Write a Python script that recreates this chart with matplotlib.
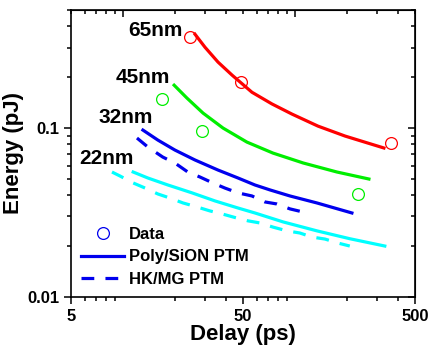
import numpy as np
import matplotlib.pyplot as plt

plt.rcParams['font.family'] = ['Liberation Sans', 'DejaVu Sans']
plt.rcParams['font.weight'] = 'bold'

# 65nm, Poly/SiON
red_x = [26.3, 30.1, 35.8, 43.2, 56.4, 73.7, 96.4, 136.5, 196, 266, 330]
red_y = [0.360, 0.301, 0.246, 0.206, 0.163, 0.139, 0.121, 0.1027, 0.0897, 0.0815, 0.0762]
red_dx = [24.6, 48.6, 362]
red_dy = [0.345, 0.187, 0.0815]

# 45nm, Poly/SiON
green_x = [19.9, 23.6, 29.3, 38.3, 52.7, 74.7, 112, 176, 270]
green_y = [0.1795, 0.1507, 0.1227, 0.100, 0.0826, 0.0711, 0.0621, 0.0549, 0.0499]
green_dx = [16.9, 28.9, 232]
green_dy = [0.148, 0.096, 0.0407]

# 32nm
blue_x = [13.1, 16.0, 20.1, 26.3, 35.8, 46.8, 58.7, 71.8, 93.8, 134.6, 215]
blue_y = [0.0973, 0.0849, 0.0741, 0.0647, 0.0564, 0.0506, 0.0460, 0.0430, 0.0396, 0.0360, 0.0314]
blue_hk_x = [12.1, 14.0, 17.1, 20.1, 23.9, 28.1, 33.4, 39.3, 46.8, 56.4, 67.1, 78.8, 93.8, 112]
blue_hk_y = [0.0873, 0.0772, 0.0673, 0.0621, 0.0549, 0.0513, 0.0473, 0.0441, 0.0413, 0.0396,
             0.0365, 0.0355, 0.0332, 0.0318]

# 22nm
cyan_x = [11.5, 14.0, 18.3, 25.3, 34.4, 46.8, 58.7, 85.5, 134.6, 209, 334]
cyan_y = [0.0549, 0.0506, 0.046, 0.0413, 0.0370, 0.0336, 0.0314, 0.0278, 0.0246, 0.0221, 0.0200]
cyan_hk_x = [8.66, 9.64, 11.5, 13.5, 16.0, 18.8, 22.4, 27.0, 32.1, 37.8, 46.1, 53.5, 62.8,
             74.7, 90.1, 107, 126, 150, 176, 209]
cyan_hk_y = [0.0549, 0.0520, 0.0473, 0.0441, 0.0407, 0.0385, 0.0360, 0.0341, 0.0323, 0.0310,
             0.0293, 0.0282, 0.0274, 0.0259, 0.0246, 0.0239, 0.0226, 0.0220, 0.0209, 0.0200]

node_labels = ['65nm', '45nm', '32nm', '22nm']
label_x = [22.4, 18.8, 15.0, 11.5]
label_y = [0.38, 0.198, 0.116, 0.0656]

fig = plt.figure(figsize=(4.3, 3.48), dpi=100)
ax = fig.add_axes([0.165, 0.147, 0.8, 0.824])

lw = 2.3
dash = (0, (4, 3.5))
ax.plot(red_x, red_y, color='#ff0000', lw=lw)
ax.plot(green_x, green_y, color='#00ee00', lw=lw)
ax.plot(blue_x, blue_y, color='#0000ee', lw=lw)
ax.plot(blue_hk_x, blue_hk_y, color='#0000ee', lw=lw, linestyle=dash)
ax.plot(cyan_x, cyan_y, color='#00ffff', lw=lw)
ax.plot(cyan_hk_x, cyan_hk_y, color='#00ffff', lw=lw, linestyle=dash)

ms = 8.5
ax.plot(red_dx, red_dy, 'o', mfc='none', mec='#ff0000', ms=ms, mew=0.9)
ax.plot(green_dx, green_dy, 'o', mfc='none', mec='#00ee00', ms=ms, mew=0.9)

for t, x, y in zip(node_labels, label_x, label_y):
    ax.text(x, y, t, ha='right', va='center', fontsize=15, fontweight='bold')

# legend handles
h1, = ax.plot([], [], 'o', mfc='none', mec='#0000ee', ms=ms, mew=0.9)
h2, = ax.plot([], [], color='#0000ee', lw=lw)
h3, = ax.plot([], [], color='#0000ee', lw=lw, linestyle=dash)
ax.legend([h1, h2, h3], ['Data', 'Poly/SiON PTM', 'HK/MG PTM'],
          loc='lower left', bbox_to_anchor=(0.0, 0.0), frameon=False,
          fontsize=12, handlelength=2.6, handletextpad=0.3,
          labelspacing=0.45, borderaxespad=0.2)

ax.set_xscale('log')
ax.set_yscale('log')
ax.set_xlim(5, 500)
ax.set_ylim(0.01, 0.5)
ax.set_xticks([5, 50, 500])
ax.set_xticklabels(['5', '50', '500'])
ax.set_yticks([0.01, 0.1])
ax.set_yticklabels(['0.01', '0.1'])
ax.tick_params(which='both', direction='out', labelsize=12, width=1.1)
ax.tick_params(which='major', length=5)
ax.tick_params(which='minor', length=3)
for s in ax.spines.values():
    s.set_linewidth(1.2)

top = ax.secondary_xaxis('top')
top.tick_params(which='both', direction='in', labeltop=False, width=1.1)
top.tick_params(which='major', length=5)
top.tick_params(which='minor', length=3)
right = ax.secondary_yaxis('right')
right.tick_params(which='both', direction='in', labelright=False, width=1.1)
right.tick_params(which='major', length=5)
right.tick_params(which='minor', length=3)

ax.set_xlabel('Delay (ps)', fontsize=16, fontweight='bold', labelpad=0)
ax.set_ylabel('Energy (pJ)', fontsize=16, fontweight='bold', labelpad=2)

fig.savefig('out.png', dpi=100)
